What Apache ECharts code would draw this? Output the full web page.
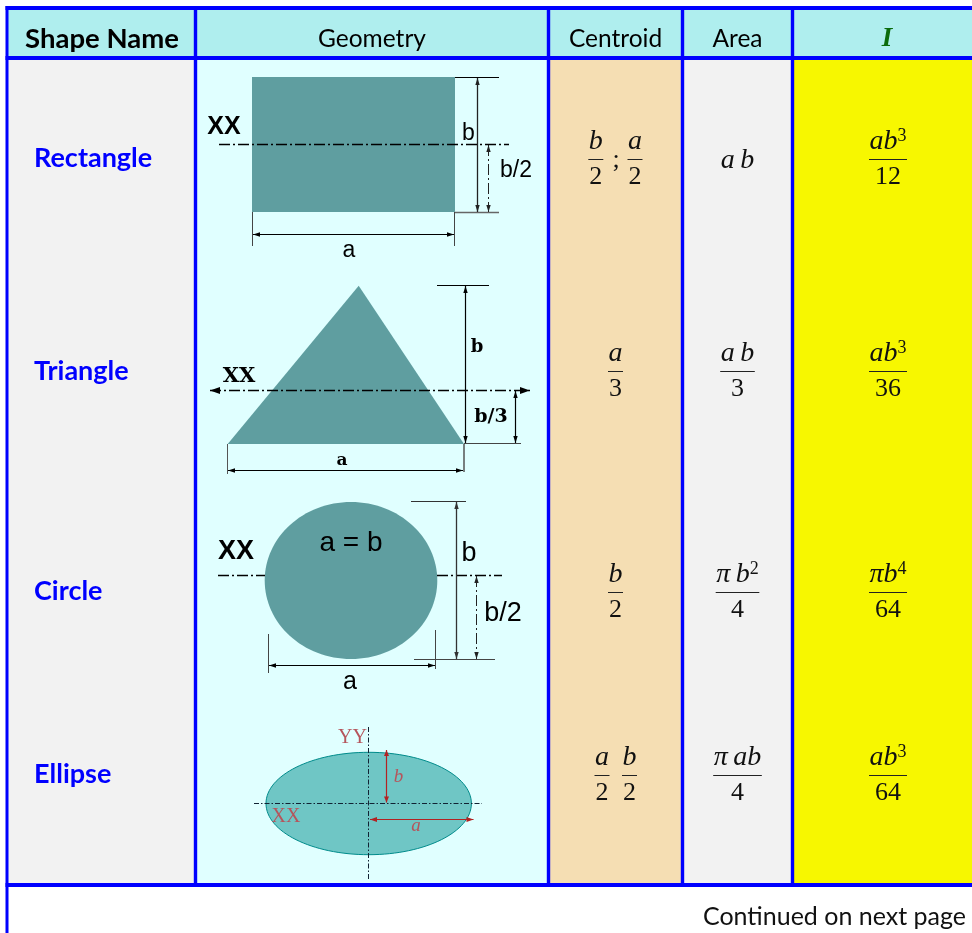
<!DOCTYPE html>
<html>
<head>
<meta charset="utf-8">
<style>html,body{margin:0;padding:0;background:#fff}#main{width:972px;height:933px}</style>
<script src="https://cdn.jsdelivr.net/npm/echarts@6/dist/echarts.min.js"></script>
</head>
<body>
<div id="main"></div>
<script>
// table content
const headers = ['Shape Name', 'Geometry', 'Centroid', 'Area', 'I'];
const shapeNames = ['Rectangle', 'Triangle', 'Circle', 'Ellipse'];
const centroids = [['b/2', ';', 'a/2'], ['a/3'], ['b/2'], ['a/2', 'b/2']];
const areas = ['a\u2009b', 'a\u2009b/3', '\u03c0\u2009b^2/4', '\u03c0\u2009ab/4'];
const inertias = ['ab^3/12', 'ab^3/36', '\u03c0b^4/64', 'ab^3/64'];
const footer = 'Continued on next page';

// page layout, in picture pixels
const colEdges = [8, 195.5, 548.5, 682.5, 792.5, 972];
const rowEdges = [8, 58, 885];
const nameY = [158, 371, 591, 774];
const barY = [159.5, 371.5, 592.5, 775.5];
const centroidX = [[595.8, 616, 635], [615.5], [615.5], [602, 629.5]];
const colFill = ['#f2f2f2', '#e0ffff', '#f5deb3', '#f2f2f2', '#f7f700'];
const headFill = '#afeeee';
const BLUE = '#0000ff';
const SANS = '"Lato", "Noto Sans", sans-serif';
const MATH = '"Liberation Serif", serif';
const HELV = '"Liberation Sans", sans-serif';
const TEACH = '"DejaVu Serif", serif';
const TEAL = '#5f9ea0';
const RED = '#b22222';
const MAROON = '#b5555c';
const DASHDOT = [11, 3, 2, 3];

const measure = document.createElement('canvas').getContext('2d');
function mathWidth(s) {
  let w = 0;
  s.match(/\^\d|\d+|[^\d^]+/g).forEach(function (t) {
    if (t[0] === '^') { measure.font = '18px ' + MATH; w += measure.measureText(t.slice(1)).width; }
    else if (/\d/.test(t[0])) { measure.font = '26px ' + MATH; w += measure.measureText(t).width; }
    else { measure.font = 'italic 28px ' + MATH; w += measure.measureText(t).width; }
  });
  return w;
}
function mathRich(s) {
  return s.match(/\^\d|\d+|[^\d^]+/g).map(function (t) {
    if (t[0] === '^') return '{s|' + t.slice(1) + '}';
    if (/\d/.test(t[0])) return '{n|' + t + '}';
    return '{i|' + t + '}';
  }).join('');
}
const mathStyles = {
  i: { font: 'italic 28px ' + MATH, fill: '#111', lineHeight: 30 },
  n: { font: '26px ' + MATH, fill: '#111', lineHeight: 30 },
  s: { font: '18px ' + MATH, fill: '#111', lineHeight: 19, verticalAlign: 'top' }
};

function renderCell(params, api) {
  const p = function (x, y) { return api.coord([x, y]); };
  const kids = [];
  const box = function (x0, y0, x1, y1, fill) {
    const a = p(x0, y0), b = p(x1, y1);
    kids.push({ type: 'rect', shape: { x: a[0], y: a[1], width: b[0] - a[0], height: b[1] - a[1] }, style: { fill: fill } });
  };
  const label = function (text, x, y, font, fill, align) {
    const a = p(x, y);
    kids.push({ type: 'text', style: { text: text, x: a[0], y: a[1], font: font, fill: fill, align: align || 'center', verticalAlign: 'middle' } });
  };
  const math = function (s, x, y) {
    const a = p(x, y);
    kids.push({ type: 'text', style: { text: mathRich(s), x: a[0], y: a[1], align: 'center', verticalAlign: 'middle', rich: mathStyles } });
  };
  const term = function (s, x, y) {
    if (s.indexOf('/') < 0) {
      math(s, x, y + 1);
      return;
    }
    const parts = s.split('/');
    const w = Math.max(mathWidth(parts[0]), mathWidth(parts[1])) + 1;
    math(parts[0], x, y - 17.5);
    math(parts[1], x, y + 17.5);
    box(x - w / 2, y - 0.5, x + w / 2, y + 0.5, '#222');
  };

  const c = api.value(0), r = api.value(1);
  if (r === 0) {
    box(colEdges[c], rowEdges[0], colEdges[c + 1], rowEdges[1], headFill);
    const cx = c === 0 ? 102 : (colEdges[c] + colEdges[c + 1]) / 2;
    if (c === 0) label(headers[c], cx, 39, 'bold 27.5px ' + SANS, '#000');
    else if (c === 4) label(headers[c], 887, 39, 'italic bold 27px ' + MATH, '#0b6b0b');
    else label(headers[c], cx, 39, '24.5px ' + SANS, '#000');
  } else {
    box(colEdges[c], rowEdges[1], colEdges[c + 1], rowEdges[2], colFill[c]);
    if (c === 0) shapeNames.forEach(function (n, i) { label(n, 34, nameY[i], 'bold 27px ' + SANS, BLUE, 'left'); });
    if (c === 2) centroids.forEach(function (ts, i) {
      ts.forEach(function (t, j) {
        if (t === ';') label(t, centroidX[i][j], barY[i] + 1, '26px ' + MATH, '#111');
        else term(t, centroidX[i][j], barY[i]);
      });
    });
    if (c === 3) areas.forEach(function (t, i) { term(t, 737.5, barY[i]); });
    if (c === 4) inertias.forEach(function (t, i) { term(t, 888, barY[i]); });
  }
  return { type: 'group', children: kids };
}

function renderRules(params, api) {
  const p = function (x, y) { return api.coord([x, y]); };
  const band = function (x0, y0, x1, y1) {
    const a = p(x0, y0), b = p(x1, y1);
    return { type: 'rect', shape: { x: a[0], y: a[1], width: b[0] - a[0], height: b[1] - a[1] }, style: { fill: BLUE } };
  };
  const kids = [
    band(5.5, 6, 972, 10), band(5.5, 56, 972, 60), band(5.5, 883, 972, 887), band(5.5, 6, 8.5, 933)
  ];
  colEdges.slice(1, 5).forEach(function (x) { kids.push(band(x - 1.7, 6, x + 1.7, 887)); });
  const a = p(966, 916.5);
  kids.push({ type: 'text', style: { text: footer, x: a[0], y: a[1], font: '25px ' + SANS, fill: '#111', align: 'right', verticalAlign: 'middle' } });
  return { type: 'group', children: kids };
}

function renderDiagram(params, api) {
  const p = function (x, y) { return api.coord([x, y]); };
  const kids = [];
  const line = function (x1, y1, x2, y2, color, dash, w) {
    const a = p(x1, y1), b = p(x2, y2);
    kids.push({ type: 'line', shape: { x1: a[0], y1: a[1], x2: b[0], y2: b[1] }, style: { stroke: color || '#000', lineWidth: w || 1, lineDash: dash || null } });
  };
  const head = function (x, y, dx, dy, color, len, half) {
    const L = len || 7, H = half || 2.2;
    kids.push({ type: 'polygon', shape: { points: [
      p(x, y), p(x - dx * L - dy * H, y - dy * L - dx * H), p(x - dx * L + dy * H, y - dy * L + dx * H)
    ] }, style: { fill: color || '#000' } });
  };
  const arrow = function (x1, y1, x2, y2, color, dash, w, len, half) {
    line(x1, y1, x2, y2, color, dash, w);
    const n = Math.hypot(x2 - x1, y2 - y1), dx = (x2 - x1) / n, dy = (y2 - y1) / n;
    head(x2, y2, dx, dy, color, len, half);
    head(x1, y1, -dx, -dy, color, len, half);
  };
  const text = function (s, x, y, font, fill) {
    const a = p(x, y + 1);
    kids.push({ type: 'text', style: { text: s, x: a[0], y: a[1], font: font, fill: fill || '#000', align: 'center', verticalAlign: 'middle' } });
  };
  const rectShape = function (x0, y0, x1, y1) {
    const a = p(x0, y0), b = p(x1, y1);
    kids.push({ type: 'rect', shape: { x: a[0], y: a[1], width: b[0] - a[0], height: b[1] - a[1] }, style: { fill: TEAL } });
  };
  const ell = function (cx, cy, rx, ry, style) {
    const a = p(cx, cy);
    kids.push({ type: 'ellipse', shape: { cx: a[0], cy: a[1], rx: rx, ry: ry }, style: style });
  };

  const kind = shapeNames[api.value(0)];
  if (kind === 'Rectangle') {
    rectShape(252, 77, 455, 212);
    line(455, 77.5, 499, 77.5);
    line(455, 212.5, 499, 212.5, '#666', null, 1.5);
    arrow(477.5, 78, 477.5, 212, '#222', null, 1.3);
    arrow(488.5, 145, 488.5, 212, '#222', DASHDOT);
    line(219, 144.5, 509, 144.5, '#000', DASHDOT, 1.5);
    line(252.5, 212, 252.5, 246, '#444');
    line(454.5, 212, 454.5, 246, '#444');
    arrow(253, 234.5, 454, 234.5, '#000');
    text('XX', 224, 126, 'bold 25px ' + HELV);
    text('b', 468.5, 133, '23px ' + HELV);
    text('b/2', 516, 170, '23px ' + HELV);
    text('a', 349, 250, '23px ' + HELV);
  } else if (kind === 'Triangle') {
    kids.push({ type: 'polygon', shape: { points: [p(358.7, 285.7), p(464, 444), p(227.7, 444)] }, style: { fill: TEAL } });
    line(437, 285.5, 489, 285.5);
    arrow(465.5, 286, 465.5, 443, '#000', null, 1.2);
    arrow(210, 390.5, 530, 390.5, '#000', DASHDOT, 1.6, 10, 3.5);
    arrow(515.5, 391, 515.5, 443, '#000', null, 1.2);
    line(464, 443.5, 521, 443.5, '#444', null, 1.2);
    line(227.5, 444, 227.5, 474, '#555');
    line(464, 444, 464, 472, '#555', null, 1.5);
    arrow(228, 470.5, 463, 470.5, '#000', null, 1.2);
    text('XX', 239, 376, 'bold 21px ' + TEACH);
    text('b', 477, 346, 'bold 18px ' + TEACH);
    text('b/3', 491, 416, 'bold 19px ' + TEACH);
    text('a', 342, 460, 'bold 17px ' + TEACH);
  } else if (kind === 'Circle') {
    ell(351, 580.5, 86.3, 78.5, { fill: TEAL });
    line(218, 575.5, 265, 575.5, '#000', DASHDOT, 1.5);
    line(437, 575.5, 502, 575.5, '#000', DASHDOT, 1.5);
    line(411, 501.5, 466, 501.5, '#333');
    line(414, 659.5, 495, 659.5, '#444', null, 1.2);
    arrow(456.5, 502, 456.5, 659, '#333', null, 1.3);
    arrow(476.5, 576, 476.5, 659, '#222', DASHDOT);
    line(268.5, 634, 268.5, 673, '#444');
    line(435.5, 630, 435.5, 669, '#444');
    arrow(269, 665.5, 435, 665.5, '#000');
    text('XX', 236, 551, 'bold 27px ' + HELV);
    text('a = b', 351, 542, '28px ' + HELV);
    text('b', 469, 553, '27px ' + HELV);
    text('b/2', 503, 613, '27px ' + HELV);
    text('a', 350, 681, '25px ' + HELV);
  } else {
    ell(368.7, 803.5, 102.7, 51.2, { fill: '#6fc6c5', stroke: '#008b8b', lineWidth: 1 });
    line(254, 803.5, 482, 803.5, '#123', [5, 2, 1.5, 2]);
    line(368.5, 727, 368.5, 879, '#123', [5, 2, 1.5, 2]);
    arrow(386.5, 750, 386.5, 802.5, RED, null, 1.2, 6, 2.5);
    arrow(370, 819.5, 473.5, 819.5, RED, null, 1.2, 7, 2.5);
    text('YY', 352.5, 737, '20px ' + MATH, MAROON);
    text('XX', 286, 816, '20px ' + MATH, MAROON);
    text('b', 398.5, 776, 'italic 19px ' + MATH, MAROON);
    text('a', 416, 825, 'italic 19px ' + MATH, MAROON);
  }
  return { type: 'group', children: kids };
}

const cellData = [];
[0, 1].forEach(function (r) {
  headers.forEach(function (h, c) { cellData.push([c, r]); });
});

const chart = echarts.init(document.getElementById('main'), null, { renderer: 'canvas' });
chart.setOption({
  animation: false,
  backgroundColor: '#fff',
  tooltip: { show: false },
  grid: { left: 0, right: 0, top: 0, bottom: 0 },
  xAxis: { type: 'value', min: 0, max: 972, show: false },
  yAxis: { type: 'value', min: 0, max: 933, inverse: true, show: false },
  series: [
    { type: 'custom', name: 'cells', coordinateSystem: 'cartesian2d', clip: false, silent: true, z: 1, renderItem: renderCell, data: cellData },
    { type: 'custom', name: 'diagrams', coordinateSystem: 'cartesian2d', clip: false, silent: true, z: 2, renderItem: renderDiagram, data: shapeNames.map(function (n, i) { return [i]; }) },
    { type: 'custom', name: 'rules', coordinateSystem: 'cartesian2d', clip: false, silent: true, z: 3, renderItem: renderRules, data: [[0]] }
  ]
});
</script>
</body>
</html>
